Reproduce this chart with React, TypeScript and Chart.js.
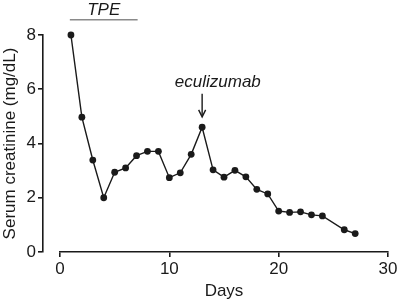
import React, { useEffect, useRef } from "react";
import { Chart, registerables } from "chart.js";

Chart.register(...registerables);

const days: number[] = [1, 2, 3, 4, 5, 6, 7, 8, 9, 10, 11, 12, 13, 14, 15, 16, 17, 18, 19, 20, 21, 22, 23, 24, 26, 27];
const creatinine: number[] = [8.0, 4.97, 3.39, 2.0, 2.94, 3.1, 3.55, 3.71, 3.71, 2.74, 2.92, 3.6, 4.6, 3.03, 2.76, 3.01, 2.77, 2.31, 2.14, 1.51, 1.46, 1.48, 1.37, 1.33, 0.82, 0.68];
const xTicks: number[] = [0, 10, 20, 30];
const yTicks: number[] = [0, 2, 4, 6, 8];

// annotations (data units)
const tpeLabel = "TPE";
const tpeRange: number[] = [0.9, 7.1];
const tpeLineY = 8.56;
const tpeTextPos: number[] = [4.0, 8.75];
const eculLabel = "eculizumab";
const eculTextPos: number[] = [10.5, 6.09];
const eculArrow: number[] = [13.0, 5.83, 4.98];

const FONT = "'Liberation Sans', Arial, Helvetica, sans-serif";
const INK = "#1a1a1a";

const annotationPlugin = {
  id: "annot",
  afterDatasetsDraw(chart: any) {
    const { ctx } = chart;
    const xs = chart.scales.x;
    const ys = chart.scales.y;
    ctx.save();
    // TPE bar
    ctx.strokeStyle = "#8a8a8a";
    ctx.lineWidth = 1.5;
    ctx.beginPath();
    ctx.moveTo(xs.getPixelForValue(tpeRange[0]), ys.getPixelForValue(tpeLineY));
    ctx.lineTo(xs.getPixelForValue(tpeRange[1]), ys.getPixelForValue(tpeLineY));
    ctx.stroke();
    ctx.fillStyle = INK;
    ctx.font = `italic 17px ${FONT}`;
    ctx.textAlign = "center";
    ctx.textBaseline = "alphabetic";
    ctx.fillText(tpeLabel, xs.getPixelForValue(tpeTextPos[0]), ys.getPixelForValue(tpeTextPos[1]));
    // eculizumab
    ctx.textAlign = "left";
    ctx.fillText(eculLabel, xs.getPixelForValue(eculTextPos[0]), ys.getPixelForValue(eculTextPos[1]));
    const ax = xs.getPixelForValue(eculArrow[0]);
    const ay0 = ys.getPixelForValue(eculArrow[1]);
    const ay1 = ys.getPixelForValue(eculArrow[2]);
    ctx.strokeStyle = INK;
    ctx.lineWidth = 1.4;
    ctx.beginPath();
    ctx.moveTo(ax, ay0);
    ctx.lineTo(ax, ay1 - 2);
    ctx.stroke();
    ctx.beginPath();
    ctx.moveTo(ax - 3.5, ay1 - 7);
    ctx.lineTo(ax, ay1);
    ctx.lineTo(ax + 3.5, ay1 - 7);
    ctx.stroke();
    ctx.restore();
  },
};

export default function App() {
  const ref = useRef<HTMLCanvasElement | null>(null);
  useEffect(() => {
    document.body.style.margin = "0";
    const canvas = ref.current;
    if (!canvas) return;
    const points = days.map((d, i) => ({ x: d, y: creatinine[i] }));
    const chart = new Chart(canvas, {
      type: "scatter",
      data: {
        datasets: [
          {
            data: points,
            showLine: true,
            clip: false,
            borderColor: INK,
            borderWidth: 1.4,
            pointRadius: 3.4,
            pointBackgroundColor: INK,
            pointBorderWidth: 0,
            pointBorderColor: INK,
          },
        ],
      },
      options: {
        responsive: false,
        animation: false,
        devicePixelRatio: 1,
        layout: { padding: { top: 35, right: 12, bottom: 0, left: 0 } },
        plugins: { legend: { display: false }, tooltip: { enabled: false } },
        scales: {
          x: {
            type: "linear",
            min: 0,
            max: 30,
            afterBuildTicks: (s: any) => {
              s.ticks = xTicks.map((v) => ({ value: v }));
            },
            afterFit: (s: any) => {
              s.height = 53;
            },
            border: { display: true, color: INK, width: 1.6 },
            grid: { display: true, drawOnChartArea: false, drawTicks: true, tickLength: 5, color: INK, lineWidth: 1.6 },
            ticks: { color: INK, font: { family: FONT, size: 17 }, padding: 2, maxRotation: 0 },
            title: { display: true, text: "Days", color: INK, font: { family: FONT, size: 17 }, padding: { top: 0, bottom: 3 } },
          },
          y: {
            type: "linear",
            position: "left",
            weight: 2,
            min: 0,
            max: 8,
            afterBuildTicks: (s: any) => {
              s.ticks = yTicks.map((v) => ({ value: v }));
            },
            afterFit: (s: any) => {
              s.width = 43;
            },
            border: { display: true, color: INK, width: 1.6 },
            grid: { display: true, drawOnChartArea: false, drawTicks: true, tickLength: 5, color: INK, lineWidth: 1.6 },
            ticks: { color: INK, font: { family: FONT, size: 17 }, padding: 2 },
            title: { display: true, text: "Serum creatinine (mg/dL)", color: INK, font: { family: FONT, size: 17 }, padding: { top: 0, bottom: 0 } },
          },
          yPad: {
            type: "linear",
            position: "left",
            weight: 1,
            display: true,
            afterFit: (s: any) => {
              s.width = 17;
            },
            border: { display: false },
            grid: { display: false },
            ticks: { display: false },
          },
        },
      },
      plugins: [annotationPlugin],
    } as any);
    return () => chart.destroy();
  }, []);
  return (
    <div style={{ position: "fixed", left: 0, top: 0, width: 400, height: 305, background: "#fff" }}>
      <canvas ref={ref} width={400} height={305} style={{ width: 400, height: 305, display: "block" }} />
    </div>
  );
}
